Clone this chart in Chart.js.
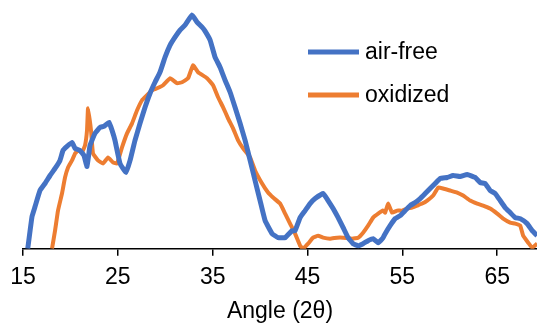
<!DOCTYPE html>
<html>
<head>
<meta charset="utf-8">
<script src="https://cdn.jsdelivr.net/npm/chart.js@4.4.1/dist/chart.umd.min.js"></script>
<style>
  html, body { margin: 0; padding: 0; background: #fff; }
  #wrap { width: 537px; height: 324px; }
</style>
</head>
<body>
<div id="wrap"><canvas id="xrd"></canvas></div>
<script>
// Values (angle in 2θ, intensity in arbitrary units)
const airFreeAngle = [15.5, 15.95, 16.27, 16.79, 17.32, 17.85, 18.38, 18.9, 19.22, 19.64, 20.17, 20.49, 21.01, 21.43, 21.75,
  22.07, 22.59, 23.12, 23.54, 24.07, 24.39, 24.7, 25.23, 25.86, 26.29, 26.81, 27.34, 27.87, 28.4, 28.92, 29.45, 29.98,
  30.51, 31.03, 31.56, 32.09, 32.83, 33.35, 33.88, 34.2, 34.73, 35.25, 35.78, 36.31, 36.84, 37.36, 37.89, 38.42, 38.95,
  39.47, 40.0, 40.53, 41.27, 41.9, 42.64, 43.38, 43.69, 44.22, 44.75, 45.27, 45.8, 46.65, 47.17, 47.7, 48.23, 48.76,
  49.28, 49.81, 50.34, 50.86, 51.39, 51.92, 52.45, 52.97, 53.19, 53.71, 54.24, 54.77, 55.3, 55.82, 56.35, 56.88, 57.41,
  57.93, 58.46, 58.99, 59.73, 60.36, 61.1, 61.84, 62.68, 63.21, 63.73, 64.26, 64.79, 65.32, 65.84, 66.37, 66.9, 67.43,
  68.16, 68.69, 69.22];
const airFreeIntensity = [0, 32, 42, 58, 65, 73, 80, 88, 98, 102, 106, 100, 98, 93, 82,
  103, 115, 121, 122, 126, 118, 108, 85, 76, 88, 108, 125, 141, 155, 166, 176, 191,
  203, 211, 218, 223, 233, 226, 221, 217, 208, 191, 181, 168, 156, 141, 125, 108, 88,
  68, 48, 28, 15, 11, 11, 18, 18, 31, 38, 45, 50, 55, 48, 40, 31, 21,
  11, 5, 3, 5, 8, 10, 6, 11, 15, 23, 30, 33, 38, 43, 46, 50, 55,
  60, 65, 70, 71, 73, 72, 74, 71, 66, 65, 58, 55, 48, 41, 36, 31, 30,
  25, 18, 13];

const oxidizedAngle = [18.06, 18.38, 18.69, 19.11, 19.43, 19.75, 20.17, 20.49, 20.8, 21.22, 21.54, 21.75, 21.86, 22.17,
  22.38, 22.91, 23.44, 23.97, 24.49, 24.92, 25.44, 25.97, 26.5, 27.03, 27.55, 28.08, 28.61, 29.14, 29.77, 30.51, 31.24,
  31.77, 32.41, 32.93, 33.46, 34.41, 35.04, 35.57, 36.1, 36.62, 37.15, 37.68, 38.21, 38.95, 39.47, 40.21, 40.84, 41.37,
  42.11, 42.64, 43.16, 43.69, 44.22, 44.54, 45.06, 45.59, 46.12, 46.65, 47.38, 48.12, 48.76, 49.7, 50.34, 50.86, 51.39,
  51.92, 52.45, 52.97, 53.19, 53.5, 53.92, 54.45, 54.98, 55.51, 56.03, 56.56, 57.09, 57.62, 58.25, 58.78, 59.3, 60.04,
  60.78, 61.41, 62.15, 62.89, 63.52, 64.26, 65.0, 65.63, 66.37, 66.9, 67.43, 67.74, 68.27, 68.69, 69.22];
const oxidizedIntensity = [0, 18, 38, 55, 71, 81, 88, 95, 98, 96, 103, 118, 140, 118,
  95, 88, 85, 91, 86, 85, 101, 115, 125, 138, 148, 153, 158, 160, 163, 170, 165,
  166, 170, 183, 176, 170, 163, 151, 141, 130, 120, 108, 100, 91, 78, 65, 56, 51,
  45, 35, 25, 15, 3, 0, 5, 11, 13, 11, 10, 11, 11, 10, 11, 16, 23,
  31, 35, 38, 36, 45, 36, 38, 38, 40, 41, 43, 45, 48, 53, 61, 60, 58,
  56, 53, 48, 45, 43, 40, 35, 30, 26, 25, 23, 13, 6, 1, 5];

const seriesNames = ['air-free', 'oxidized'];
const tickValues = [15, 25, 35, 45, 55, 65];
const axisTitle = 'Angle (2θ)';

const FONT = "'Liberation Sans', Arial, sans-serif";

function toPoints(xs, ys) {
  return xs.map((x, i) => ({ x: x, y: ys[i] }));
}

// Legend drawn inside the plot, top right
const insideLegend = {
  id: 'insideLegend',
  afterDraw(chart) {
    const ctx = chart.ctx;
    const rows = [52, 95];
    ctx.save();
    ctx.font = '23px ' + FONT;
    ctx.textBaseline = 'middle';
    chart.data.datasets.forEach((ds, i) => {
      const y = rows[i];
      ctx.strokeStyle = ds.borderColor;
      ctx.lineWidth = 5;
      ctx.beginPath();
      ctx.moveTo(308, y);
      ctx.lineTo(359, y);
      ctx.stroke();
      ctx.fillStyle = '#000';
      ctx.fillText(ds.label, 365, y + 1);
    });
    ctx.restore();
  }
};

new Chart(document.getElementById('xrd'), {
  type: 'line',
  data: {
    datasets: [
      {
        label: seriesNames[0],
        data: toPoints(airFreeAngle, airFreeIntensity),
        borderColor: '#4472C4',
        borderWidth: 5,
        pointRadius: 0,
        tension: 0.1
      },
      {
        label: seriesNames[1],
        data: toPoints(oxidizedAngle, oxidizedIntensity),
        borderColor: '#ED7D31',
        borderWidth: 4,
        pointRadius: 0,
        tension: 0.1
      }
    ]
  },
  options: {
    responsive: true,
    maintainAspectRatio: false,
    animation: false,
    layout: { padding: { left: 23, right: 0, top: 8, bottom: 0 } },
    plugins: {
      legend: { display: false },
      tooltip: { enabled: false }
    },
    scales: {
      x: {
        type: 'linear',
        min: 15,
        max: 69.2,
        afterBuildTicks: (axis) => {
          axis.ticks = tickValues.map(v => ({ value: v }));
        },
        grid: {
          drawOnChartArea: false,
          drawTicks: true,
          tickLength: 7,
          color: '#000',
          lineWidth: 1.5
        },
        border: { display: true, color: '#000', width: 1.5 },
        ticks: {
          color: '#000',
          font: { family: FONT, size: 23, lineHeight: 1.0 },
          padding: 10,
          maxRotation: 0,
          autoSkip: false
        },
        title: {
          display: true,
          text: axisTitle,
          color: '#000',
          font: { family: FONT, size: 23, lineHeight: 1.1 },
          padding: { top: 0, bottom: 0 }
        }
      },
      y: {
        display: false,
        min: 0,
        max: 240
      }
    }
  },
  plugins: [insideLegend]
});
</script>
</body>
</html>
